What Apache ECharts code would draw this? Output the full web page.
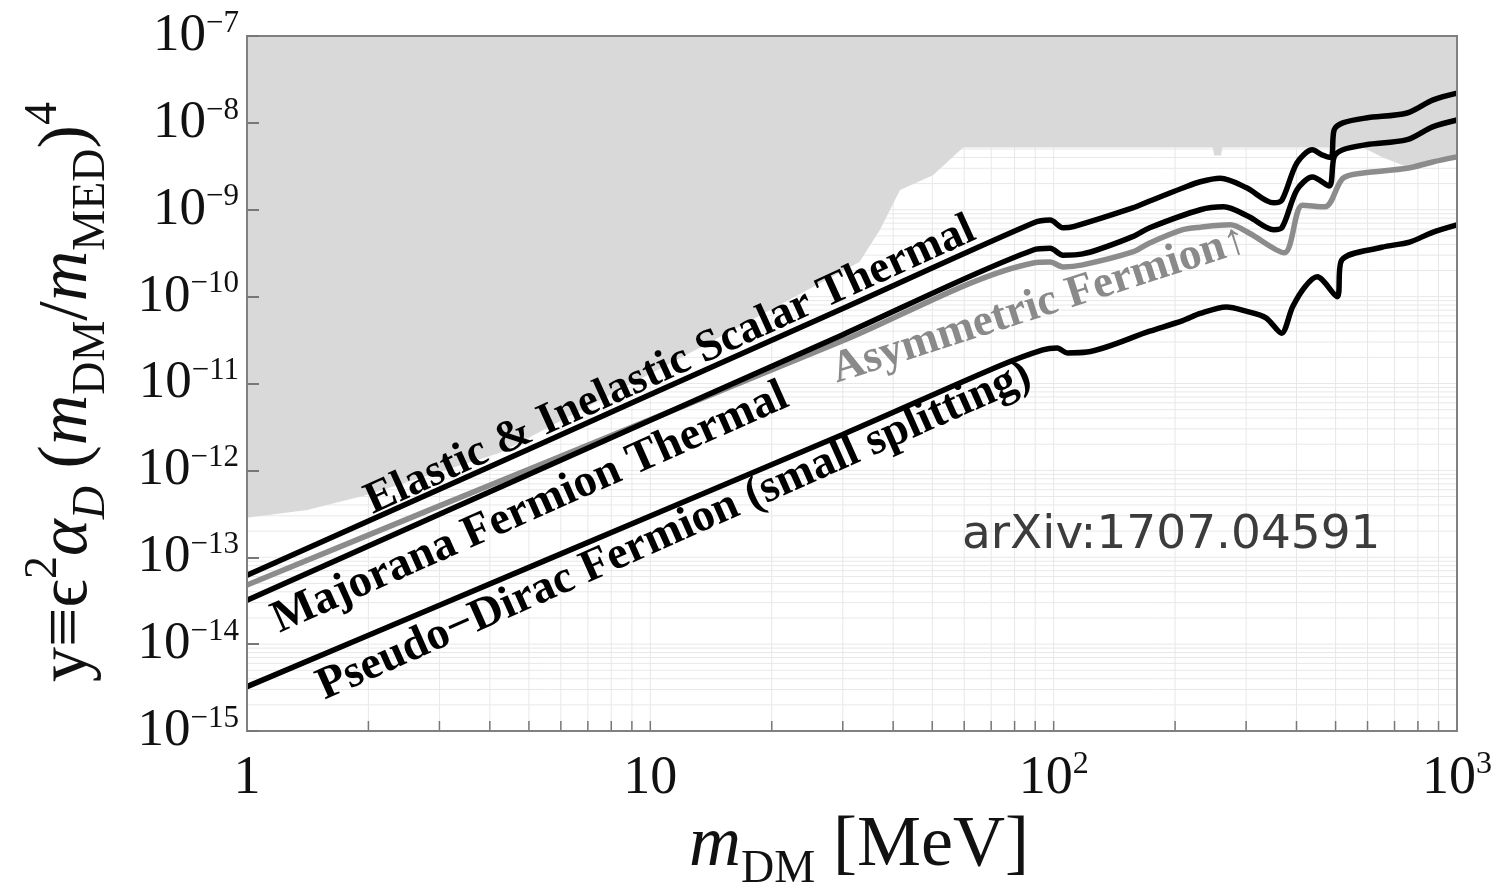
<!DOCTYPE html>
<html><head><meta charset="utf-8">
<script src="https://cdn.jsdelivr.net/npm/echarts@6/dist/echarts.min.js"></script>
<style>html,body{margin:0;padding:0;background:#fff}#c{width:1497px;height:891px}</style>
</head><body><div id="c"></div>
<script>
// ---- tick labels ----
const xTickValues = [1, 10, 100, 1000];
const xTickLabels = ['{b|1}', '{b|10}', '{b|10}{s|2}', '{b|10}{s|3}'];
const yTickExponents = [-15, -14, -13, -12, -11, -10, -9, -8, -7];
const yTickLabels = ['{b|10}{s|−15}','{b|10}{s|−14}','{b|10}{s|−13}','{b|10}{s|−12}','{b|10}{s|−11}','{b|10}{s|−10}','{b|10}{s|−9}','{b|10}{s|−8}','{b|10}{s|−7}'];
const xMinorTicks = [2,3,4,5,6,7,8,9,10,20,30,40,50,60,70,80,90,100,200,300,400,500,600,700,800,900];
const yGridMantissas = [1,2,3,4,5,6,7,8,9];

// ---- Elastic & Inelastic Scalar Thermal ----
const elasticM = [1, 3, 10, 30, 89, 98, 105.5, 112, 157, 173, 209, 231, 259, 300, 351, 368, 401, 438, 462, 487, 496, 521, 595, 752, 870, 1000];
const elasticY = [6.2e-14, 6.07e-13, 7.45e-12, 7.3e-11, 7.05e-10, 7.6e-10, 6.2e-10, 6.4e-10, 1.05e-9, 1.26e-9, 1.78e-9, 2.1e-9, 2.3e-9, 1.8e-9, 1.2e-9, 1.29e-9, 3.46e-9, 4.9e-9, 4.3e-9, 4.0e-9, 8.3e-9, 1.0e-8, 1.14e-8, 1.3e-8, 1.83e-8, 2.2e-8];

// ---- Majorana Fermion Thermal ----
const majoranaM = [1, 3, 10, 30, 89, 98, 105.5, 118, 157, 173, 231, 264, 305, 351, 368, 401, 438, 482, 496, 521, 595, 752, 870, 1000];
const majoranaY = [3.2e-14, 3.13e-13, 3.77e-12, 3.65e-11, 3.44e-10, 3.6e-10, 3.0e-10, 3.1e-10, 4.9e-10, 6.2e-10, 1.0e-9, 1.08e-9, 8.3e-10, 5.9e-10, 6.2e-10, 1.69e-9, 2.38e-9, 1.88e-9, 4.06e-9, 4.9e-9, 5.6e-9, 6.4e-9, 9.0e-9, 1.08e-8];

// ---- Asymmetric Fermion ----
const asymM = [1, 3, 10, 30, 89, 98, 105.5, 118, 157, 173, 209, 231, 274, 305, 373, 414, 471, 521, 585, 752, 870, 1000];
const asymY = [4.8e-14, 3.9e-13, 3.84e-12, 3.1e-11, 2.44e-10, 2.5e-10, 2.2e-10, 2.32e-10, 3.27e-10, 4.15e-10, 5.9e-10, 6.3e-10, 6.7e-10, 5.4e-10, 3.2e-10, 1.13e-9, 1.08e-9, 2.3e-9, 2.65e-9, 3.0e-9, 3.55e-9, 4.06e-9];

// ---- Pseudo-Dirac Fermion (small splitting) ----
const pseudoM = [1, 3, 10, 30, 73.5, 94, 102, 108, 121, 173, 209, 231, 268, 300, 336, 367, 391, 420, 450, 504, 518, 651, 763, 870, 1000];
const pseudoY = [3.24e-15, 2.8e-14, 2.99e-13, 2.59e-12, 1.6e-11, 2.44e-11, 2.57e-11, 2.25e-11, 2.3e-11, 4.0e-11, 5.3e-11, 6.4e-11, 7.6e-11, 6.8e-11, 5.7e-11, 3.8e-11, 7.6e-11, 1.3e-10, 1.69e-10, 1.0e-10, 2.64e-10, 3.7e-10, 4.25e-10, 5.5e-10, 6.7e-10];

// ---- excluded (grey) region lower boundary ----
const regionM = [1, 1.41, 1.98, 4.24, 13.3, 33, 37.1, 41.6, 50.2, 59.6, 248, 250, 260, 262, 585, 651, 752, 870, 1000];
const regionY = [2.84e-13, 3.5e-13, 5.2e-13, 1.6e-12, 2.6e-11, 2.5e-10, 5.9e-10, 1.69e-9, 2.5e-9, 5.2e-9, 5.2e-9, 4.2e-9, 4.2e-9, 5.2e-9, 5.2e-9, 4.06e-9, 3.11e-9, 3.65e-9, 4.27e-9];

const X_MIN = 1, X_MAX = 1000, Y_MIN = 1e-15, Y_MAX = 1e-7;
const pairs = (a, b) => a.map((v, i) => [v, b[i]]);

const yGridValues = [];
for (let e = -15; e < -7; e++) yGridMantissas.forEach(m => { if (!(m === 1 && e === -15)) yGridValues.push(m * Math.pow(10, e)); });
const xGridValues = xMinorTicks.slice();

const serif = '"Liberation Serif", "DejaVu Serif", serif';
const chart = echarts.init(document.getElementById('c'), null, {renderer: 'canvas'});

function findLabel(vals, labels, v) {
  for (let i = 0; i < vals.length; i++) if (Math.abs(Math.log10(vals[i]) - Math.log10(v)) < 1e-6) return labels[i];
  return '';
}

const option = {
  animation: false,
  backgroundColor: '#ffffff',
  grid: {left: 247, top: 36, width: 1210, height: 695, show: true, z: 10, borderColor: '#808080', borderWidth: 2, backgroundColor: 'rgba(0,0,0,0)'},
  xAxis: {
    type: 'log', logBase: 10, min: X_MIN, max: X_MAX, z: 10,
    axisLine: {show: false}, axisTick: {show: false}, splitLine: {show: false},
    axisLabel: {
      margin: 18, color: '#111',
      formatter: v => findLabel(xTickValues, xTickLabels, v),
      rich: {
        b: {fontFamily: serif, fontSize: 54, lineHeight: 60, color: '#111'},
        s: {fontFamily: serif, fontSize: 32, lineHeight: 34, verticalAlign: 'top', color: '#111'}
      }
    }
  },
  yAxis: {
    type: 'log', logBase: 10, min: Y_MIN, max: Y_MAX, interval: 1, z: 10,
    axisLine: {show: false},
    axisTick: {show: true, inside: true, length: 12, lineStyle: {color: '#777', width: 2}},
    splitLine: {show: false},
    axisLabel: {
      margin: 8, color: '#111', showMinLabel: true, showMaxLabel: true,
      formatter: v => findLabel(yTickExponents.map(e => Math.pow(10, e)), yTickLabels, v),
      rich: {
        b: {fontFamily: serif, fontSize: 53, lineHeight: 56, color: '#111'},
        s: {fontFamily: serif, fontSize: 31, lineHeight: 30, verticalAlign: 'top', color: '#111'}
      }
    }
  },
  series: [
    {
      type: 'custom', z: 1, silent: true,
      data: xGridValues.map(v => [v, Y_MIN]),
      renderItem: (params, api) => {
        const p = api.coord([api.value(0), api.value(1)]);
        const cs = params.coordSys;
        return {type: 'line', shape: {x1: p[0], y1: cs.y, x2: p[0], y2: cs.y + cs.height}, style: {stroke: '#e8e8e8', lineWidth: 1}};
      }
    },
    {
      type: 'custom', z: 1, silent: true,
      data: yGridValues.map(v => [X_MIN, v]),
      renderItem: (params, api) => {
        const p = api.coord([api.value(0), api.value(1)]);
        const cs = params.coordSys;
        return {type: 'line', shape: {x1: cs.x, y1: p[1], x2: cs.x + cs.width, y2: p[1]}, style: {stroke: '#e8e8e8', lineWidth: 1}};
      }
    },
    {
      type: 'line', z: 2, silent: true, symbol: 'none',
      data: pairs(regionM, regionY),
      lineStyle: {width: 0, color: '#d9d9d9'},
      areaStyle: {origin: 'end', color: '#d9d9d9', opacity: 1}
    },
    {
      type: 'line', z: 3, symbol: 'none', smooth: 0.3,
      data: pairs(asymM, asymY),
      lineStyle: {width: 5.5, color: '#8c8c8c'}
    },
    {
      type: 'line', z: 4, symbol: 'none', smooth: 0.3,
      data: pairs(elasticM, elasticY),
      lineStyle: {width: 5.5, color: '#000'}
    },
    {
      type: 'line', z: 4, symbol: 'none', smooth: 0.3,
      data: pairs(majoranaM, majoranaY),
      lineStyle: {width: 5.5, color: '#000'}
    },
    {
      type: 'line', z: 4, symbol: 'none', smooth: 0.3,
      data: pairs(pseudoM, pseudoY),
      lineStyle: {width: 5.5, color: '#000'}
    },
    {
      type: 'custom', z: 6, silent: true,
      data: xMinorTicks.map(v => [v, Y_MIN]),
      renderItem: (params, api) => {
        const p = api.coord([api.value(0), api.value(1)]);
        return {type: 'line', shape: {x1: p[0], y1: p[1], x2: p[0], y2: p[1] - 10}, style: {stroke: '#777', lineWidth: 1.5}};
      }
    }
  ],
  graphic: [
    {type: 'text', x: 377, y: 524, rotation: 24.5 * Math.PI / 180, z: 100,
      style: {text: 'Elastic & Inelastic Scalar Thermal', fontFamily: serif, fontWeight: 'bold', fontSize: 45, fill: '#000', align: 'left', verticalAlign: 'bottom'}},
    {type: 'text', x: 284, y: 643, rotation: 24 * Math.PI / 180, z: 100,
      style: {text: 'Majorana Fermion Thermal', fontFamily: serif, fontWeight: 'bold', fontSize: 46, fill: '#000', align: 'left', verticalAlign: 'bottom'}},
    {type: 'text', x: 329, y: 710, rotation: 24 * Math.PI / 180, z: 100,
      style: {text: 'Pseudo−Dirac Fermion (small splitting)', fontFamily: serif, fontWeight: 'bold', fontSize: 46, fill: '#000', align: 'left', verticalAlign: 'bottom'}},
    {type: 'text', x: 840, y: 393, rotation: 17.8 * Math.PI / 180, z: 100,
      style: {text: 'Asymmetric Fermion↑', fontFamily: serif, fontWeight: 'bold', fontSize: 45, fill: '#8a8a8a', align: 'left', verticalAlign: 'bottom'}},
    {type: 'text', x: 962, y: 559, z: 100,
      style: {text: 'arXiv:1707.04591', fontFamily: '"DejaVu Sans", sans-serif', fontSize: 47, fill: '#3c3c3c', align: 'left', verticalAlign: 'bottom'}},
    {type: 'text', x: 68, y: 392, rotation: Math.PI / 2, z: 100,
      style: {
        text: '{n|y≡ϵ}{sup|2}{i|α}{subi|D}{n| (}{i|m}{sub|DM}{n|/}{i|m}{sub|MED}{n|)}{sup|4}',
        align: 'center', verticalAlign: 'middle',
        rich: {
          n: {fontFamily: serif, fontSize: 70, lineHeight: 94, fill: '#111'},
          i: {fontFamily: serif, fontStyle: 'italic', fontSize: 70, lineHeight: 94, fill: '#111'},
          sup: {fontFamily: serif, fontSize: 46, lineHeight: 52, verticalAlign: 'top', fill: '#111'},
          sub: {fontFamily: serif, fontSize: 46, lineHeight: 58, verticalAlign: 'bottom', fill: '#111'},
          subi: {fontFamily: serif, fontStyle: 'italic', fontSize: 46, lineHeight: 58, verticalAlign: 'bottom', fill: '#111'}
        }
      }},
    {type: 'text', x: 859, y: 846, z: 100,
      style: {
        text: '{i|m}{sub|DM}{n| [MeV]}',
        align: 'center', verticalAlign: 'middle',
        rich: {
          n: {fontFamily: serif, fontSize: 72, lineHeight: 94, fill: '#111'},
          i: {fontFamily: serif, fontStyle: 'italic', fontSize: 72, lineHeight: 94, fill: '#111'},
          sub: {fontFamily: serif, fontSize: 46, lineHeight: 58, verticalAlign: 'bottom', fill: '#111'}
        }
      }}
  ]
};
chart.setOption(option);
</script>
</body></html>
